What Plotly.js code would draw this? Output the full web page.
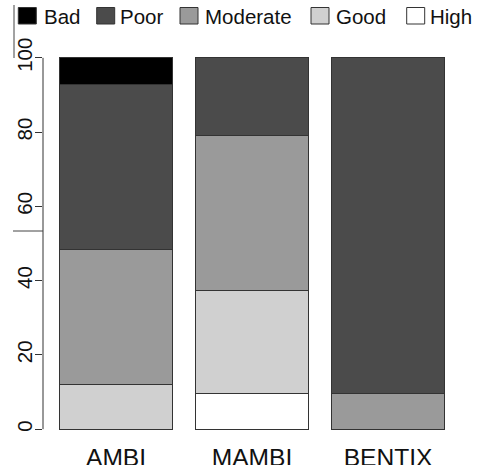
<!DOCTYPE html>
<html>
<head>
<meta charset="utf-8">
<script src="https://cdn.plot.ly/plotly-3.0.1.min.js"></script>
<style>html,body{margin:0;padding:0;background:#fff;}#chart{width:477px;height:465px;}</style>
</head>
<body>
<div id="chart"></div>
<script>
// ---- data ----
var indices = ["AMBI", "MAMBI", "BENTIX"];
var classes = ["High", "Good", "Moderate", "Poor", "Bad"];   // stacking order, bottom to top
var high     = [0,    9.6,  0];
var good     = [12.1, 27.7, 0];
var moderate = [36.3, 41.8, 9.6];
var poor     = [44.4, 20.9, 90.4];
var bad      = [7.2,  0,    0];
var yTicks   = [0, 20, 40, 60, 80, 100];
var legendOrder = ["Bad", "Poor", "Moderate", "Good", "High"];

// ---- styling ----
var colors = {Bad: "#000000", Poor: "#4b4b4b", Moderate: "#9a9a9a", Good: "#d0d0d0", High: "#ffffff"};
var seriesByClass = {High: high, Good: good, Moderate: moderate, Poor: poor, Bad: bad};
var FONT = "Liberation Sans, Arial, Helvetica, sans-serif";

var W = 477, H = 465;
var M = {l: 43, r: 17, t: 43, b: 21};
var plotW = W - M.l - M.r, plotH = H - M.t - M.b;
function px(x) { return (x - M.l) / plotW; }
function py(y) { return (H - M.b - y) / plotH; }

var traces = classes.map(function (c) {
  return {
    type: "bar",
    name: c,
    x: indices,
    y: seriesByClass[c],
    marker: {color: colors[c], line: {color: "#333333", width: 1}},
    hoverinfo: "x+y+name",
    showlegend: false
  };
});

// custom R-style legend along the top
var legSquareX = [18.3, 96.7, 180, 311, 406.7];
var legTextX = [42.3, 118.3, 203, 334, 428.3];
var shapes = [];
var annotations = [];
legendOrder.forEach(function (c, i) {
  shapes.push({
    type: "rect", xref: "paper", yref: "paper",
    x0: px(legSquareX[i]), x1: px(legSquareX[i] + 18), y0: py(24), y1: py(7.5),
    fillcolor: colors[c], line: {color: "#333333", width: 1}
  });
  annotations.push({
    xref: "paper", yref: "paper", x: px(legTextX[i]), y: py(16),
    xanchor: "left", yanchor: "middle", showarrow: false,
    text: c, font: {family: FONT, size: 20.5, color: "#111111"}
  });
});

// y axis line spanning 0..100 (R style)
shapes.push({type: "line", xref: "paper", yref: "y", x0: 0, x1: 0, y0: 0, y1: 100,
  line: {color: "#333333", width: 1}});
// stray border fragments visible in the reference
shapes.push({type: "line", xref: "paper", yref: "paper", x0: px(14), x1: px(14), y0: py(5), y1: py(58),
  line: {color: "#444444", width: 1}});
shapes.push({type: "line", xref: "paper", yref: "paper", x0: px(13), x1: px(43), y0: py(231), y1: py(231),
  line: {color: "#444444", width: 1}});

var layout = {
  width: W, height: H,
  margin: M,
  paper_bgcolor: "#ffffff", plot_bgcolor: "#ffffff",
  barmode: "stack",
  bargap: 0.17,
  font: {family: FONT, color: "#111111"},
  xaxis: {
    type: "category", range: [-0.537, 2.529],
    showline: false, showgrid: false, zeroline: false, ticks: "",
    ticklabelstandoff: -4,
    tickfont: {family: FONT, size: 24.6, color: "#111111"}
  },
  yaxis: {
    range: [-4, 104], tickvals: yTicks, ticktext: yTicks.map(String),
    showline: false, showgrid: false, zeroline: false,
    ticks: "outside", ticklen: 7, tickcolor: "#333333", tickwidth: 1,
    tickangle: -90,
    ticklabelstandoff: -5,
    tickfont: {family: FONT, size: 20.5, color: "#111111"}
  },
  shapes: shapes,
  annotations: annotations
};

Plotly.newPlot("chart", traces, layout, {displayModeBar: false, staticPlot: true});
</script>
</body>
</html>
